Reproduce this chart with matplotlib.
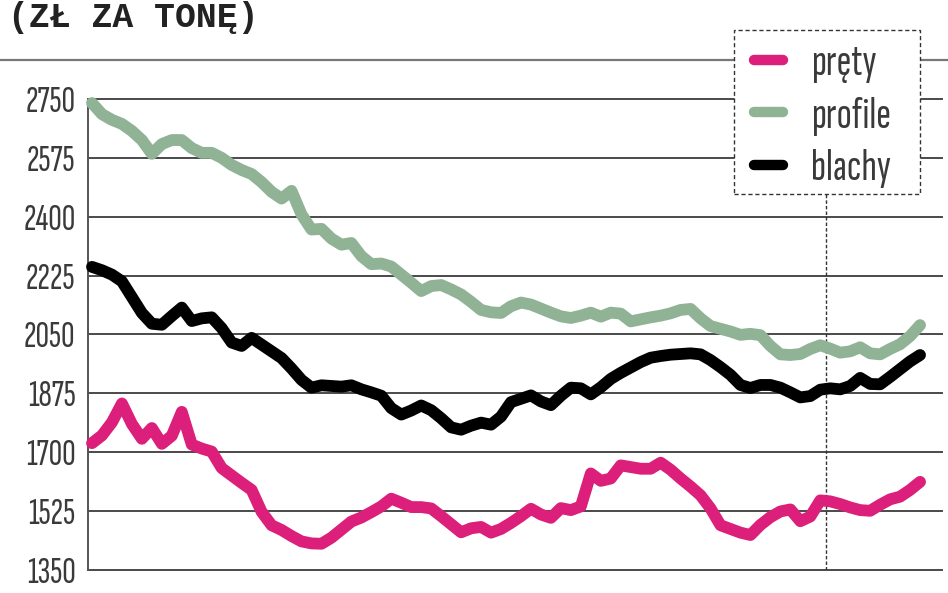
import numpy as np
import matplotlib
matplotlib.use("Agg")
import matplotlib.pyplot as plt
from matplotlib.lines import Line2D
from matplotlib.patches import Rectangle
from matplotlib import font_manager as fm

# ---- data (PLN per tonne) ----
title = "(ZŁ ZA TONĘ)"
series_names = ["pręty", "profile", "blachy"]
y_ticks = [1350, 1525, 1700, 1875, 2050, 2225, 2400, 2575, 2750]

prety = [1727, 1750, 1789, 1845, 1784, 1740, 1772, 1725, 1749, 1820, 1723, 1711,
         1702, 1653, 1631, 1609, 1588, 1523, 1483, 1469, 1451, 1435, 1429, 1428,
         1446, 1470, 1494, 1506, 1522, 1539, 1562, 1550, 1537, 1537, 1533, 1510,
         1486, 1462, 1474, 1478, 1461, 1472, 1490, 1510, 1532, 1515, 1505, 1534,
         1528, 1539, 1637, 1615, 1622, 1661, 1656, 1651, 1651, 1669, 1648, 1622,
         1598, 1572, 1533, 1483, 1472, 1461, 1454, 1484, 1507, 1524, 1530, 1495,
         1509, 1557, 1554, 1546, 1536, 1528, 1526, 1544, 1560, 1568, 1588, 1612]

profile = [2738, 2705, 2688, 2676, 2655, 2628, 2587, 2616, 2628, 2628, 2604, 2590,
           2590, 2575, 2554, 2539, 2527, 2503, 2474, 2454, 2477, 2407, 2362, 2364,
           2335, 2317, 2322, 2283, 2259, 2261, 2252, 2228, 2204, 2179, 2194, 2197,
           2184, 2169, 2147, 2123, 2116, 2114, 2134, 2145, 2139, 2127, 2115, 2104,
           2099, 2106, 2115, 2103, 2115, 2112, 2089, 2095, 2101, 2106, 2113, 2123,
           2126, 2098, 2075, 2067, 2059, 2049, 2052, 2048, 2016, 1991, 1989, 1992,
           2007, 2018, 2008, 1996, 2000, 2012, 1994, 1991, 2007, 2021, 2045, 2078]

blachy = [2251, 2241, 2228, 2208, 2161, 2114, 2082, 2079, 2105, 2130, 2090, 2098,
          2101, 2069, 2026, 2016, 2040, 2020, 2000, 1980, 1949, 1915, 1892, 1899,
          1897, 1895, 1899, 1887, 1878, 1868, 1831, 1812, 1824, 1839, 1825, 1801,
          1774, 1767, 1779, 1788, 1782, 1806, 1849, 1859, 1869, 1851, 1840, 1868,
          1892, 1890, 1872, 1893, 1918, 1936, 1952, 1968, 1981, 1986, 1990, 1992,
          1994, 1991, 1974, 1953, 1930, 1900, 1891, 1900, 1900, 1892, 1878, 1863,
          1867, 1886, 1890, 1887, 1897, 1921, 1903, 1902, 1924, 1947, 1970, 1989]

marker_index = 73.6  # dashed reference line position (period boundary)

colors = {"pręty": "#dc1f7a", "profile": "#90b395", "blachy": "#000000"}
text_color = "#3a3a3a"

# narrow sans family: first installed one of the list is used
wanted = ["Saira Extra Condensed", "Sofia Sans Extra Condensed", "Pathway Gothic One",
          "Antonio", "Barlow Condensed", "Roboto Condensed", "Encode Sans Condensed",
          "DejaVu Sans"]
installed = set(f.name for f in fm.fontManager.ttflist)
cond_family = [f for f in wanted if f in installed][:1] + ["DejaVu Sans"]
tick_fp = fm.FontProperties(family=cond_family, weight="light", size=27)
leg_fp = fm.FontProperties(family=cond_family, weight="light", size=32)

W, H = 948, 593
fig = plt.figure(figsize=(W / 100, H / 100), dpi=100)
fig.patch.set_facecolor("white")

ax_left, ax_right, ax_top, ax_bottom = 88, 942, 99, 570
ax = fig.add_axes([ax_left / W, 1 - ax_bottom / H,
                   (ax_right - ax_left) / W, (ax_bottom - ax_top) / H])

x = np.arange(len(prety))
for name, vals in zip(series_names, [prety, profile, blachy]):
    ax.plot(x, vals, color=colors[name], lw=8.5, solid_capstyle="round",
            solid_joinstyle="round", label=name, zorder=3, clip_on=False)

ax.set_xlim(-0.4, 85.2)
ax.set_ylim(y_ticks[0], y_ticks[-1])
ax.set_yticks(y_ticks)
ax.set_yticklabels([str(t) for t in y_ticks], fontproperties=tick_fp,
                   color=text_color)
ax.tick_params(axis="y", length=0, pad=9)
ax.set_xticks([])
ax.grid(axis="y", color="#4a4a4a", lw=1.4, zorder=1)
for gl in ax.get_ygridlines():
    gl.set_clip_on(False)
for s in ["top", "right", "bottom"]:
    ax.spines[s].set_visible(False)
ax.spines["left"].set_color("#555555")
ax.spines["left"].set_linewidth(1.4)

# dashed reference line
ax.axvline(marker_index, ymin=0, ymax=(ax_bottom - 194) / (ax_bottom - ax_top),
           color="#333333", lw=1.0, ls=(0, (2.5, 1.5)), zorder=2)

# title and top rule
fig.text(8 / W, 1 - 27 / H, title, family=["Liberation Mono", "DejaVu Sans Mono"],
         weight="bold", fontsize=25, color="#222222", va="baseline", ha="left")
fig.add_artist(Line2D([0, 1], [1 - 60 / H, 1 - 60 / H], transform=fig.transFigure,
                      color="#777777", lw=1.6))

# legend: dashed white box + entries
box_l, box_t, box_r, box_b = 734, 30, 920, 194
fig.add_artist(Rectangle((box_l / W, 1 - box_b / H), (box_r - box_l) / W,
                         (box_b - box_t) / H, transform=fig.transFigure,
                         facecolor="white", edgecolor="#333333", lw=1.0,
                         ls=(0, (3, 2)), zorder=5))
leg = fig.legend(loc="upper left", bbox_to_anchor=((box_l + 7) / W, 1 - (box_t + 1) / H),
                 frameon=False, handlelength=0.65, handletextpad=0.62,
                 borderpad=0.3, labelspacing=0.3, borderaxespad=0,
                 prop=leg_fp)
leg.set_zorder(10)
for t in leg.get_texts():
    t.set_color(text_color)
for h in leg.legend_handles:
    h.set_linewidth(7.5)
    h.set_solid_capstyle("round")

fig.savefig("out.png", dpi=100, facecolor="white")
